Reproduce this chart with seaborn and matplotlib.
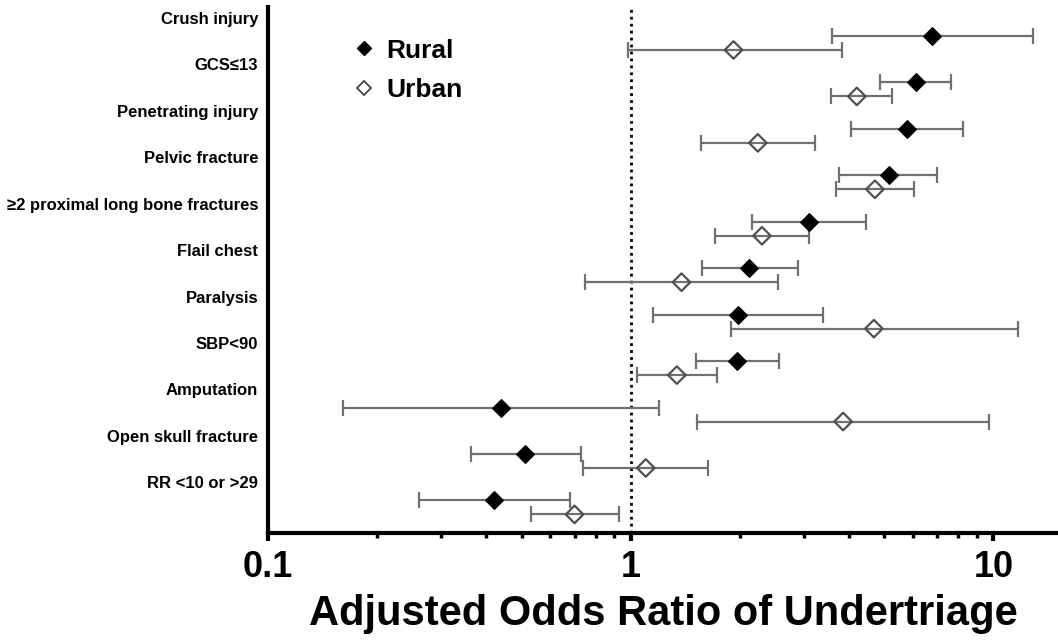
import numpy as np
import pandas as pd
import matplotlib
matplotlib.use("Agg")
import matplotlib.pyplot as plt
from matplotlib.lines import Line2D
from matplotlib.ticker import LogLocator, NullFormatter, FixedLocator, FixedFormatter
import seaborn as sns

# data (odds ratio, lower CI, upper CI)
criteria = ["Crush injury", "GCS\u226413", "Penetrating injury", "Pelvic fracture",
            "\u22652 proximal long bone fractures", "Flail chest", "Paralysis",
            "SBP<90", "Amputation", "Open skull fracture", "RR <10 or >29"]

rural_or = [6.77, 6.11, 5.77, 5.15, 3.10, 2.12, 1.97, 1.96, 0.44, 0.51, 0.42]
rural_lo = [3.58, 4.86, 4.04, 3.75, 2.16, 1.57, 1.15, 1.51, 0.161, 0.362, 0.26]
rural_hi = [12.85, 7.64, 8.24, 6.98, 4.45, 2.89, 3.39, 2.56, 1.20, 0.73, 0.68]

urban_or = [1.92, 4.20, 2.24, 4.71, 2.30, 1.38, 4.68, 1.34, 3.85, 1.10, 0.70]
urban_lo = [0.98, 3.56, 1.56, 3.68, 1.71, 0.75, 1.89, 1.04, 1.52, 0.74, 0.53]
urban_hi = [3.82, 5.25, 3.22, 6.04, 3.10, 2.54, 11.7, 1.73, 9.72, 1.63, 0.93]

sns.set_style("ticks")
plt.rcParams['font.family'] = ['Liberation Sans', 'DejaVu Sans']
plt.rcParams['font.weight'] = 'bold'
for k in ['text.color', 'axes.labelcolor', 'xtick.color', 'ytick.color', 'axes.edgecolor']:
    plt.rcParams[k] = 'black'

rows = np.arange(len(criteria))
df = pd.DataFrame({
    "criterion": criteria * 2,
    "OR": rural_or + urban_or,
    "lo": rural_lo + urban_lo,
    "hi": rural_hi + urban_hi,
    "group": ["Rural"] * len(criteria) + ["Urban"] * len(criteria),
    "y": np.concatenate([rows - 0.15, rows + 0.15]),
})

fig = plt.figure(figsize=(10.58, 6.42), dpi=100)
ax = fig.add_axes([268 / 1058, 109 / 642, 790 / 1058, 526 / 642])

# reference line at OR = 1
ax.axvline(1, color="black", linestyle=(0, (1, 1.5)), lw=2, zorder=1)

# confidence intervals
bar_col = "#707070"
for _, r in df.iterrows():
    ax.errorbar(r["OR"], r["y"], xerr=[[r["OR"] - r["lo"]], [r["hi"] - r["OR"]]],
                fmt="none", ecolor=bar_col, elinewidth=1.6, capsize=5.5, capthick=1.6, zorder=2)

rur = df[df.group == "Rural"]
urb = df[df.group == "Urban"]
sns.scatterplot(data=rur, x="OR", y="y", marker="D", s=80, color="black",
                edgecolor="black", linewidth=1, ax=ax, zorder=3, legend=False)
sns.scatterplot(data=urb, x="OR", y="y", marker="D", s=80, facecolor="none",
                edgecolor="#505050", linewidth=1.6, ax=ax, zorder=3, legend=False)

ax.set_xscale("log")
ax.set_xlim(0.1, 15.06)
ax.set_ylim(10.55, -0.775)

# y labels sit a little above each pair
ax.yaxis.set_major_locator(FixedLocator(rows - 0.54))
ax.yaxis.set_major_formatter(FixedFormatter(criteria))
ax.tick_params(axis="y", length=0, pad=7, labelsize=12)

ax.xaxis.set_major_locator(FixedLocator([0.1, 1, 10]))
ax.xaxis.set_major_formatter(FixedFormatter(["0.1", "1", "10"]))
ax.xaxis.set_minor_locator(LogLocator(base=10, subs=np.arange(2, 10)))
ax.xaxis.set_minor_formatter(NullFormatter())
ax.tick_params(axis="x", which="major", length=6, width=3, pad=6, labelsize=26)
ax.tick_params(axis="x", which="minor", length=3.6, width=2.5)

for side in ["top", "right"]:
    ax.spines[side].set_visible(False)
ax.spines["left"].set_linewidth(3)
ax.spines["bottom"].set_linewidth(3)

ax.set_xlabel("Adjusted Odds Ratio of Undertriage", fontsize=30, fontweight="bold")
ax.xaxis.set_label_coords(0.5, -0.175)
ax.xaxis.label.set_verticalalignment("baseline")
ax.set_ylabel("")

handles = [Line2D([], [], marker="D", ls="none", color="black", markersize=7.5),
           Line2D([], [], marker="D", ls="none", markerfacecolor="none",
                  markeredgecolor="#505050", markeredgewidth=1.4, markersize=7.5)]
ax.legend(handles, ["Rural", "Urban"], loc="upper left", bbox_to_anchor=(0.075, 0.985),
          frameon=False, handletextpad=0.35, labelspacing=0.6,
          handlelength=1.0, prop={"weight": "bold", "size": 19})

fig.savefig("out.png", dpi=100)
